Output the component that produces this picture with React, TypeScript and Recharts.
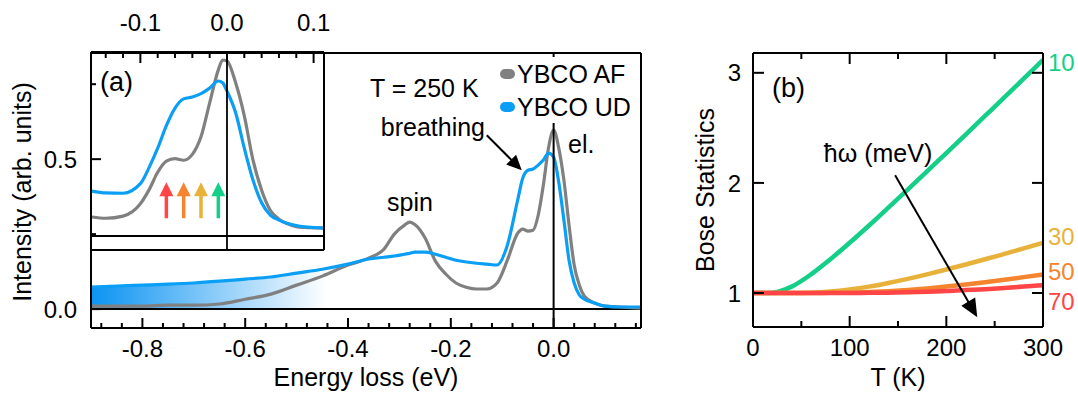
import React from 'react';
import { ComposedChart, LineChart, Line, Area, XAxis, YAxis, ReferenceLine } from 'recharts';

// panel (a): RIXS spectra, energy loss in eV
const energy = [
  -0.9, -0.85, -0.8, -0.75, -0.7, -0.65, -0.6, -0.55, -0.5, -0.45,
  -0.4, -0.36, -0.33, -0.31, -0.29, -0.28, -0.27, -0.25, -0.23, -0.21, -0.19,
  -0.17, -0.15, -0.13, -0.11, -0.09, -0.07, -0.06, -0.05, -0.04, -0.03,
  -0.02, -0.01, 0, 0.01, 0.02, 0.03, 0.04, 0.05, 0.06, 0.08,
  0.1, 0.13, 0.17,
];
const ybcoAF = [
  0.010, 0.010, 0.010, 0.013, 0.013, 0.017, 0.033, 0.050, 0.080, 0.110,
  0.147, 0.170, 0.200, 0.250, 0.280, 0.290, 0.282, 0.237, 0.160, 0.117, 0.087,
  0.073, 0.067, 0.067, 0.087, 0.163, 0.253, 0.267, 0.260, 0.263, 0.313,
  0.413, 0.537, 0.597, 0.537, 0.430, 0.280, 0.147, 0.080, 0.043, 0.020,
  0.010, 0.007, 0.003,
];
const ybcoUD = [
  0.073, 0.077, 0.080, 0.083, 0.087, 0.093, 0.100, 0.107, 0.120, 0.133,
  0.150, 0.167, 0.173, 0.177, 0.183, 0.186, 0.190, 0.190, 0.183, 0.173, 0.163,
  0.157, 0.153, 0.150, 0.147, 0.213, 0.363, 0.437, 0.463, 0.467, 0.480,
  0.497, 0.520, 0.507, 0.423, 0.297, 0.163, 0.087, 0.047, 0.033, 0.020,
  0.010, 0.007, 0.007,
];

// inset: zoom on the quasi-elastic region
const insetEnergy = [
  -0.156, -0.14, -0.12, -0.1, -0.09, -0.08, -0.07, -0.06, -0.05, -0.04,
  -0.03, -0.02, -0.01, -0.005, 0, 0.01, 0.02, 0.03, 0.04, 0.05,
  0.06, 0.07, 0.08, 0.09, 0.1, 0.112,
];
const insetAF = [
  0.062, 0.058, 0.065, 0.105, 0.150, 0.207, 0.243, 0.251, 0.246, 0.265,
  0.322, 0.432, 0.539, 0.571, 0.568, 0.497, 0.390, 0.247, 0.149, 0.084,
  0.055, 0.040, 0.031, 0.028, 0.027, 0.026,
];
const insetUD = [
  0.146, 0.140, 0.139, 0.170, 0.222, 0.285, 0.358, 0.415, 0.445, 0.451,
  0.462, 0.480, 0.503, 0.497, 0.470, 0.400, 0.285, 0.182, 0.108, 0.068,
  0.052, 0.041, 0.034, 0.030, 0.028, 0.026,
];
const phononLoss = [-0.07, -0.05, -0.03, -0.01];
const phononColors = ['#ff4545', '#f4852e', '#e8b23a', '#14cf87'];

// panel (b): Bose factor vs temperature
const temps = [0, 20, 40, 60, 80, 100, 120, 140, 160, 180, 200, 220, 240, 260, 280, 300];
const bose10 = [1, 1.003, 1.058, 1.169, 1.306, 1.456, 1.613, 1.775, 1.939, 2.104, 2.271, 2.439, 2.608, 2.777, 2.947, 3.117];
const bose30 = [1, 1, 1, 1.003, 1.013, 1.032, 1.058, 1.091, 1.128, 1.169, 1.213, 1.259, 1.306, 1.355, 1.405, 1.456];
const bose50 = [1, 1, 1, 1, 1.001, 1.003, 1.008, 1.016, 1.027, 1.041, 1.058, 1.077, 1.098, 1.12, 1.144, 1.169];
const bose70 = [1, 1, 1, 1, 1, 1, 1.001, 1.003, 1.006, 1.011, 1.018, 1.026, 1.035, 1.046, 1.058, 1.071];
const boseLabels = ['10', '30', '50', '70'];
const boseColors = ['#14cf87', '#e8b23a', '#f4852e', '#ff4545'];

// ticks
const mainXTicks = [-0.88, -0.84, -0.8, -0.76, -0.72, -0.68, -0.64, -0.6, -0.56, -0.52, -0.48, -0.44, -0.4, -0.36, -0.32, -0.28, -0.24, -0.2, -0.16, -0.12, -0.08, -0.04, 0, 0.04, 0.08, 0.12, 0.16];
const mainXMajor = [-0.8, -0.6, -0.4, -0.2, 0];
const mainYTicks = [0, 0.25, 0.5, 0.75];
const mainYMajor = [0, 0.5];
const insetXTicks = [-0.14, -0.12, -0.1, -0.08, -0.06, -0.04, -0.02, 0, 0.02, 0.04, 0.06, 0.08, 0.1];
const insetXMajor = [-0.1, 0, 0.1];
const tempTicks = [0, 50, 100, 150, 200, 250, 300];
const tempMajor = [0, 100, 200, 300];
const boseTicks = [1, 2, 3];

const mainData = energy.map((e, i) => ({ e, af: ybcoAF[i], ud: ybcoUD[i] }));
const insetData = insetEnergy.map((e, i) => ({ e, af: insetAF[i], ud: insetUD[i] }));
const boseData = temps.map((t, i) => ({ t, b10: bose10[i], b30: bose30[i], b50: bose50[i], b70: bose70[i] }));

const FONT = "'Liberation Sans', Arial, sans-serif";
const GRAY = '#808080';
const BLUE = '#0a9ef5';
const frame = { stroke: '#000', strokeWidth: 2 };

type Side = 'bottom' | 'top' | 'left' | 'right';

const inTick = (side: Side, major: number[], fmt: ((v: number) => string) | null, gap: number, majorLen = 10, minorLen = 5) =>
  (p: any) => {
    const { x, y, payload } = p;
    const v = payload.value as number;
    const isMajor = major.some(m => Math.abs(m - v) < 1e-9);
    const len = isMajor ? majorLen : minorLen;
    let line: React.ReactNode;
    let label: React.ReactNode = null;
    const txt = isMajor && fmt ? fmt(v) : null;
    if (side === 'bottom') {
      line = <line x1={x} y1={y} x2={x} y2={y - len} stroke="#000" strokeWidth={2} />;
      if (txt) label = <text x={x} y={y + gap} dy="0.36em" textAnchor="middle" fontSize={24} fontFamily={FONT} fill="#000">{txt}</text>;
    } else if (side === 'top') {
      line = <line x1={x} y1={y} x2={x} y2={y + len} stroke="#000" strokeWidth={2} />;
      if (txt) label = <text x={x} y={y - gap} dy="0.36em" textAnchor="middle" fontSize={24} fontFamily={FONT} fill="#000">{txt}</text>;
    } else if (side === 'left') {
      line = <line x1={x} y1={y} x2={x + len} y2={y} stroke="#000" strokeWidth={2} />;
      if (txt) label = <text x={x - gap} y={y} dy="0.36em" textAnchor="end" fontSize={24} fontFamily={FONT} fill="#000">{txt}</text>;
    } else {
      line = <line x1={x} y1={y} x2={x - len} y2={y} stroke="#000" strokeWidth={2} />;
    }
    return <g>{line}{label}</g>;
  };

const arrowShape = (color: string, width: number, head: number, half: number) => (p: any) => {
  const { x1, y1, x2, y2 } = p;
  const dx = x2 - x1;
  const dy = y2 - y1;
  const d = Math.hypot(dx, dy) || 1;
  const ux = dx / d;
  const uy = dy / d;
  const bx = x2 - ux * head;
  const by = y2 - uy * head;
  return (
    <g>
      <line x1={x1} y1={y1} x2={bx + ux} y2={by + uy} stroke={color} strokeWidth={width} />
      <polygon points={`${x2},${y2} ${bx - uy * half},${by + ux * half} ${bx + uy * half},${by - ux * half}`} fill={color} />
    </g>
  );
};

const Note = ({ x, y, children, color = '#000', size = 25, anchor = 'left' }: any) => (
  <div
    style={{
      position: 'absolute', left: x, top: y, color, fontSize: size, lineHeight: 1, whiteSpace: 'nowrap',
      transform: anchor === 'center' ? 'translate(-50%, -50%)' : anchor === 'right' ? 'translate(-100%, -50%)' : 'translateY(-50%)',
    }}
  >
    {children}
  </div>
);

const Rotated = ({ x, y, children }: any) => (
  <div style={{ position: 'absolute', left: x, top: y, fontSize: 25, lineHeight: 1, whiteSpace: 'nowrap', transform: 'translate(-50%, -50%) rotate(-90deg)' }}>
    {children}
  </div>
);

const fmt1 = (v: number) => v.toFixed(1);
const fmt0 = (v: number) => String(v);

export default function App() {
  return (
    <div style={{ position: 'absolute', left: 0, top: 0, width: 1078, height: 393, background: '#fff', fontFamily: FONT, overflow: 'hidden' }}>
      {/* inset (drawn first, main chart is transparent over it) */}
      <div style={{ position: 'absolute', left: 0, top: 0 }}>
        <LineChart width={340} height={260} data={insetData} margin={{ top: 51, right: 15, bottom: 9, left: 90 }}>
          <XAxis dataKey="e" type="number" domain={[-0.157, 0.112]} allowDataOverflow height={1} tick={false} tickLine={false} axisLine={frame} />
          <XAxis xAxisId="top" dataKey="e" orientation="top" type="number" domain={[-0.157, 0.112]} allowDataOverflow height={1}
            ticks={insetXTicks} interval={0} tickSize={0} tickMargin={0} tickLine={false} axisLine={frame}
            tick={inTick('top', insetXMajor, fmt1, 30, 11, 6)} />
          <YAxis type="number" domain={[-0.045, 0.597]} allowDataOverflow width={1} tick={false} tickLine={false} axisLine={frame} />
          <YAxis yAxisId="r" orientation="right" type="number" domain={[-0.045, 0.597]} allowDataOverflow width={1} tick={false} tickLine={false} axisLine={frame} />
          <ReferenceLine y={0} stroke="#000" strokeWidth={2} />
          <Line xAxisId="top" yAxisId="r" type="monotone" dataKey="af" stroke="none" strokeOpacity={0} dot={false} isAnimationActive={false} />
          <Line type="monotone" dataKey="af" stroke={GRAY} strokeWidth={3.2} dot={false} isAnimationActive={false} />
          <Line type="monotone" dataKey="ud" stroke={BLUE} strokeWidth={3.2} dot={false} isAnimationActive={false} />
          <ReferenceLine x={0} stroke="#000" strokeWidth={1.8} />
          {phononLoss.map((e, i) => (
            <ReferenceLine key={e} segment={[{ x: e, y: 0.058 }, { x: e, y: 0.175 }]} stroke={phononColors[i]}
              shape={arrowShape(phononColors[i], 3.5, 14, 7)} />
          ))}
        </LineChart>
      </div>

      {/* main panel (a) */}
      <div style={{ position: 'absolute', left: 0, top: 0 }}>
        <ComposedChart width={660} height={393} data={mainData} margin={{ top: 52, right: 18, bottom: 64, left: 90 }}>
          <defs>
            <linearGradient id="udFade" x1="0" y1="0" x2="1" y2="0">
              <stop offset="0" stopColor="#0b93f2" stopOpacity={1} />
              <stop offset="0.43" stopColor="#0b93f2" stopOpacity={0} />
            </linearGradient>
          </defs>
          <XAxis dataKey="e" type="number" domain={[-0.9, 0.17]} allowDataOverflow height={1}
            ticks={mainXTicks} interval={0} tickSize={0} tickMargin={0} tickLine={false} axisLine={frame}
            tick={inTick('bottom', mainXMajor, fmt1, 20)} />
          <XAxis xAxisId="top" orientation="top" type="number" domain={[-0.9, 0.17]} allowDataOverflow height={1} tick={false} tickLine={false} axisLine={frame} />
          <YAxis type="number" domain={[-0.063, 0.854]} allowDataOverflow width={1}
            ticks={mainYTicks} interval={0} tickSize={0} tickMargin={0} tickLine={false} axisLine={frame}
            tick={inTick('left', mainYMajor, fmt1, 14)} />
          <YAxis yAxisId="r" orientation="right" type="number" domain={[-0.063, 0.854]} allowDataOverflow width={1} tick={false} tickLine={false} axisLine={frame} />
          <Area type="monotone" dataKey="ud" stroke="none" fill="url(#udFade)" fillOpacity={1} baseValue={0} isAnimationActive={false} />
          <ReferenceLine y={0} stroke="#000" strokeWidth={2} />
          <Line type="monotone" dataKey="af" stroke={GRAY} strokeWidth={3.2} dot={false} isAnimationActive={false} />
          <Line type="monotone" dataKey="ud" stroke={BLUE} strokeWidth={3.2} dot={false} isAnimationActive={false} />
          <ReferenceLine x={0} stroke="#000" strokeWidth={2} />
          <ReferenceLine segment={[{ x: -0.13, y: 0.58 }, { x: -0.062, y: 0.463 }]} stroke="#000" shape={arrowShape('#000', 2, 15, 7)} />
        </ComposedChart>
      </div>

      {/* legend of (a) */}
      <div style={{ position: 'absolute', left: 496, top: 57, width: 142, height: 66, background: '#fff' }} />
      {[['YBCO AF', GRAY, 74], ['YBCO UD', BLUE, 107]].map(([name, color, y]) => (
        <React.Fragment key={name as string}>
          <div style={{ position: 'absolute', left: 500, top: (y as number) - 5, width: 15, height: 10, borderRadius: 5, background: color as string }} />
          <Note x={517} y={y}>{name}</Note>
        </React.Fragment>
      ))}
      <Note x={100} y={82} size={27}>(a)</Note>
      <Note x={370} y={88}>T = 250 K</Note>
      <Note x={485} y={127} anchor="right">breathing</Note>
      <Note x={568} y={144}>el.</Note>
      <Note x={410} y={202} anchor="center">spin</Note>
      <Rotated x={22} y={192}>Intensity (arb. units)</Rotated>
      <Note x={366} y={377} anchor="center">Energy loss (eV)</Note>

      {/* panel (b) */}
      <div style={{ position: 'absolute', left: 680, top: 0 }}>
        <LineChart width={398} height={393} data={boseData} margin={{ top: 52, right: 34, bottom: 65, left: 72 }}>
          <XAxis dataKey="t" type="number" domain={[0, 300]} allowDataOverflow height={1}
            ticks={tempTicks} interval={0} tickSize={0} tickMargin={0} tickLine={false} axisLine={frame}
            tick={inTick('bottom', tempMajor, fmt0, 20, 11, 6)} />
          <XAxis xAxisId="top" dataKey="t" orientation="top" type="number" domain={[0, 300]} allowDataOverflow height={1}
            ticks={tempTicks} interval={0} tickSize={0} tickMargin={0} tickLine={false} axisLine={frame}
            tick={inTick('top', tempMajor, null, 0, 11, 6)} />
          <YAxis type="number" domain={[0.691, 3.18]} allowDataOverflow width={1}
            ticks={boseTicks} interval={0} tickSize={0} tickMargin={0} tickLine={false} axisLine={frame}
            tick={inTick('left', boseTicks, fmt0, 12, 11, 6)} />
          <YAxis yAxisId="r" orientation="right" type="number" domain={[0.691, 3.18]} allowDataOverflow width={1}
            ticks={boseTicks} interval={0} tickSize={0} tickMargin={0} tickLine={false} axisLine={frame}
            tick={inTick('right', boseTicks, null, 0, 11, 6)} />
          <Line xAxisId="top" yAxisId="r" type="monotone" dataKey="b70" stroke="none" strokeOpacity={0} dot={false} isAnimationActive={false} />
          <Line type="monotone" dataKey="b10" stroke={boseColors[0]} strokeWidth={4.5} dot={false} isAnimationActive={false} />
          <Line type="monotone" dataKey="b30" stroke={boseColors[1]} strokeWidth={4.5} dot={false} isAnimationActive={false} />
          <Line type="monotone" dataKey="b50" stroke={boseColors[2]} strokeWidth={4.5} dot={false} isAnimationActive={false} />
          <Line type="monotone" dataKey="b70" stroke={boseColors[3]} strokeWidth={4.5} dot={false} isAnimationActive={false} />
          <ReferenceLine segment={[{ x: 147, y: 2.07 }, { x: 232, y: 0.78 }]} stroke="#000" shape={arrowShape('#000', 2, 18, 8)} />
        </LineChart>
      </div>
      <Note x={772} y={88} size={27}>(b)</Note>
      <Note x={878} y={153} anchor="center">ħω (meV)</Note>
      {boseLabels.map((lab, i) => (
        <Note key={lab} x={1048} y={[63, 237, 272, 302][i]} color={boseColors[i]} size={24}>{lab}</Note>
      ))}
      <Rotated x={705} y={190}>Bose Statistics</Rotated>
      <Note x={898} y={377} anchor="center">T (K)</Note>
    </div>
  );
}
